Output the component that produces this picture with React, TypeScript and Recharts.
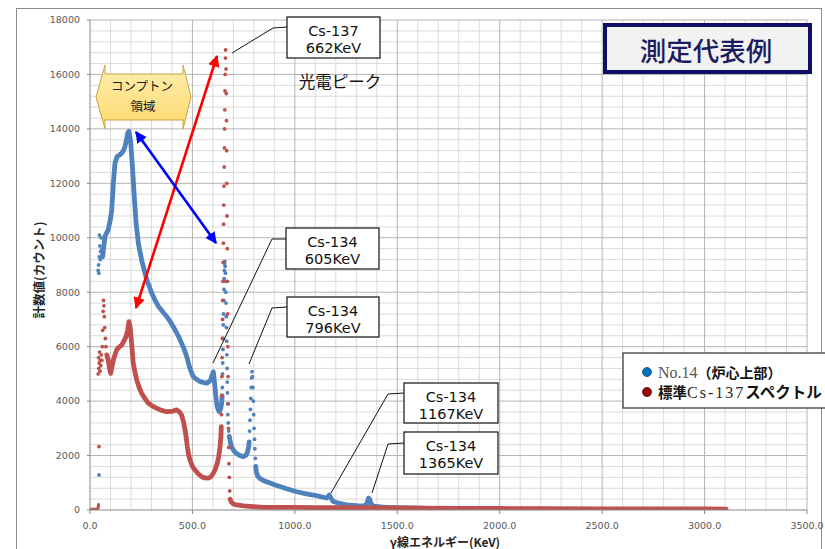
import React from 'react';
import { ComposedChart, Line, Scatter, XAxis, YAxis, ReferenceLine } from 'recharts';

// ---------- tick values ----------
const X_TICKS = [0, 500, 1000, 1500, 2000, 2500, 3000, 3500];
const Y_TICKS = [0, 2000, 4000, 6000, 8000, 10000, 12000, 14000, 16000, 18000];
const X_MINOR = Array.from({ length: 36 }, (_, i) => i * 100).filter((v) => v % 500 !== 0);
const Y_MINOR = Array.from({ length: 46 }, (_, i) => i * 400).filter((v) => v % 2000 !== 0);

// ---------- No.14 (blue) series [keV, counts] ----------
const blueStartDots = [
  [40, 8800], [42, 9000], [43, 8700], [45, 9300], [46, 10100], [48, 9700], [50, 9200],
  [52, 9500], [54, 10000], [56, 9300], [58, 9600], [60, 9400], [44, 1290],
];
const blueContA = [
  [62, 9300], [73, 10050], [89, 10290], [100, 10700], [106, 11030], [114, 12010], [122, 12750],
  [133, 12990], [145, 13050], [155, 13110], [163, 13200], [171, 13360], [178, 13600], [184, 13850],
  [190, 13910], [195, 13700], [199, 13480], [207, 12620], [215, 11640], [225, 10540], [236, 9800],
  [252, 9190], [265, 8800], [277, 8460], [290, 8200], [301, 7970], [318, 7700], [334, 7480],
  [355, 7280], [374, 7110], [395, 6880], [415, 6620], [432, 6380], [447, 6130], [460, 5900],
  [472, 5640], [485, 5270], [495, 5050], [504, 4900], [520, 4800], [537, 4720], [555, 4680],
  [570, 4660], [582, 4720], [589, 4780], [596, 4950], [602, 5080], [606, 4800], [610, 4530],
  [615, 4100], [621, 3800], [626, 3680], [631, 3610], [637, 3700], [643, 3920], [645, 4200],
];
const bluePeak662 = [
  [646, 4500], [647, 5000], [648, 5400], [649, 5900], [650, 6300], [651, 6800], [652, 7200],
  [653, 7700], [654, 8100], [655, 8500], [656, 8800], [657, 9050], [658, 9130],
  [660, 8950], [661, 8700], [662, 8400], [663, 8000], [664, 7600], [665, 7100], [666, 6700],
  [667, 6200], [668, 5700], [669, 5200], [670, 4700], [671, 4300], [672, 3900], [673, 3500],
  [675, 3200], [677, 2900], [679, 2700],
];
const blueContB = [
  [680, 2700], [686, 2450], [692, 2300], [705, 2150], [720, 2050], [735, 1990], [748, 1960],
  [760, 2000], [768, 2100], [774, 2300], [777, 2500],
];
const bluePeak796 = [
  [777, 2500], [779, 2900], [781, 3300], [783, 3700], [785, 4100], [787, 4500], [789, 4850],
  [791, 5080], [793, 4900], [795, 4500], [797, 4000], [799, 3500], [801, 3000], [803, 2600],
  [805, 2250], [807, 1900], [809, 1600],
];
const blueContC = [
  [809, 1600], [812, 1400], [818, 1250], [830, 1150], [850, 1070], [870, 1020], [900, 930],
  [927, 860], [960, 780], [1009, 670], [1050, 600], [1090, 550], [1120, 500], [1155, 440],
  [1163, 500], [1168, 550], [1175, 450], [1188, 310], [1220, 240], [1253, 190], [1300, 160],
  [1334, 150], [1350, 200], [1356, 350], [1360, 440], [1365, 400], [1372, 230], [1383, 140],
  [1420, 110], [1448, 100], [1500, 90], [1580, 75], [1650, 60], [1730, 45], [1800, 35],
];

// ---------- Standard Cs-137 (red) series [keV, counts] ----------
const redBase = [[0, 30], [10, 30], [20, 30], [30, 35], [37, 40], [40, 100], [42, 200]];
const redStartDots = [
  [40, 5000], [42, 5600], [43, 5200], [45, 5400], [47, 5800], [49, 5100], [51, 5500], [53, 5300],
  [55, 5700], [58, 5500], [60, 6000], [62, 6600], [64, 7300], [66, 7700], [68, 7500], [70, 7100],
  [72, 6700], [75, 6300], [78, 6000], [82, 5700], [44, 2330],
];
const redContA = [
  [82, 5700], [89, 5510], [95, 5200], [101, 5020], [107, 5250], [114, 5510], [122, 5700],
  [130, 5880], [142, 5980], [155, 6060], [165, 6200], [176, 6370], [184, 6600], [190, 6920],
  [195, 6750], [199, 6500], [205, 5950], [211, 5390], [220, 5050], [228, 4780], [240, 4500],
  [252, 4290], [268, 4100], [285, 3920], [305, 3820], [325, 3740], [350, 3660], [374, 3610],
  [400, 3620], [423, 3680], [437, 3600], [447, 3490], [456, 3250], [464, 2940], [470, 2650],
  [475, 2330], [481, 2050], [488, 1840], [500, 1600], [513, 1470], [528, 1330], [545, 1220],
  [560, 1180], [577, 1170], [590, 1220], [602, 1350], [612, 1500], [621, 1720], [628, 1950],
  [635, 2330], [639, 2700], [641, 3060],
];
const redPeak662 = [
  [642, 3500], [643, 4200], [644, 4900], [645, 5600], [646, 6300], [647, 7000], [648, 7700],
  [649, 8400], [650, 9100], [651, 9800], [652, 10500], [653, 11200], [654, 11900], [655, 12600],
  [656, 13300], [657, 14000], [658, 14700], [659, 15400], [660, 16000], [661, 16600], [662, 16900],
  [664, 16200], [665, 15300], [666, 14300], [667, 13200], [668, 12000], [669, 10800], [670, 9600],
  [671, 8400], [672, 7200], [673, 6000], [674, 4900], [675, 3900], [676, 3000], [677, 2300],
  [678, 1700], [680, 1200], [682, 700], [684, 400],
];
const redContC = [
  [684, 400], [690, 290], [700, 220], [716, 184], [750, 150], [800, 120], [846, 100], [927, 100],
  [1000, 95], [1100, 90], [1200, 85], [1416, 75], [1600, 65], [1800, 60], [2000, 55], [2200, 50],
  [2500, 45], [2800, 40], [3000, 38], [3105, 35],
];

const BLUE = '#4f81bd';
const RED = '#c0504d';

const pts = (a: number[][]) => a.map(([x, y]) => ({ x, y }));
const dotShape = (color: string) => (props: any) =>
  props.cx == null ? <g /> : <circle cx={props.cx} cy={props.cy} r={1.9} fill={color} />;

const lineProps = {
  dataKey: 'y',
  type: 'linear' as const,
  strokeWidth: 4.8,
  dot: false,
  activeDot: false,
  isAnimationActive: false,
  strokeLinecap: 'round' as const,
  strokeLinejoin: 'round' as const,
  legendType: 'none' as const,
};

const CJK = '"Noto Sans CJK JP", sans-serif';
const VER = '"DejaVu Sans", sans-serif';

const callouts = [
  { box: [287, 17, 93, 41], l1: 'Cs-137', l2: '662KeV', lead: '287,27 273,28 232,53' },
  { box: [286, 228, 93, 41], l1: 'Cs-134', l2: '605KeV', lead: '286,239 272,239 213,363' },
  { box: [287, 297, 92, 40], l1: 'Cs-134', l2: '796KeV', lead: '287,307 272,308 249,364' },
  { box: [404, 383, 94, 40], l1: 'Cs-134', l2: '1167KeV', lead: '404,393 388,394 331,493' },
  { box: [404, 432, 94, 42], l1: 'Cs-134', l2: '1365KeV', lead: '404,443 388,444 372,493' },
];

export default function App() {
  return (
    <div style={{ position: 'absolute', left: 0, top: 0, width: 825, height: 549, background: '#fff', overflow: 'hidden' }}>
      <div style={{ position: 'absolute', left: 16, top: 8, width: 806, height: 560, border: '1px solid #8c8c8c', boxSizing: 'border-box' }} />
      <div style={{ position: 'absolute', left: 0, top: 0 }}>
        <ComposedChart width={825} height={549} margin={{ top: 20, right: 18, bottom: 9, left: 30 }}>
          <XAxis
            type="number"
            dataKey="x"
            domain={[0, 3500]}
            ticks={X_TICKS}
            interval={0}
            allowDataOverflow
            tickFormatter={(v: number) => v.toFixed(1)}
            stroke="#868686"
            tickSize={4}
            tickMargin={8}
            height={30}
            tick={{ fontSize: 9.5, fill: '#595959', fontFamily: VER }}
          />
          <YAxis
            type="number"
            dataKey="y"
            domain={[0, 18000]}
            ticks={Y_TICKS}
            interval={0}
            allowDataOverflow
            stroke="#868686"
            tickSize={3}
            tickMargin={7}
            width={60}
            tick={{ fontSize: 9.5, fill: '#595959', fontFamily: VER }}
          />
          {X_MINOR.map((v) => (
            <ReferenceLine key={'xm' + v} x={v} stroke="#dadada" strokeWidth={1} />
          ))}
          {Y_MINOR.map((v) => (
            <ReferenceLine key={'ym' + v} y={v} stroke="#dadada" strokeWidth={1} />
          ))}
          {X_TICKS.filter((v) => v > 0).map((v) => (
            <ReferenceLine key={'xM' + v} x={v} stroke="#b4b4b4" strokeWidth={1} />
          ))}
          {Y_TICKS.filter((v) => v > 0).map((v) => (
            <ReferenceLine key={'yM' + v} y={v} stroke="#b4b4b4" strokeWidth={1} />
          ))}

          <Line {...lineProps} data={pts(blueContA)} stroke={BLUE} name="bA" />
          <Line {...lineProps} data={pts(blueContB)} stroke={BLUE} name="bB" />
          <Line {...lineProps} data={pts(blueContC)} stroke={BLUE} name="bC" />
          <Scatter data={pts(blueStartDots)} dataKey="y" shape={dotShape(BLUE)} isAnimationActive={false} legendType="none" />
          <Scatter data={pts(bluePeak662)} dataKey="y" shape={dotShape(BLUE)} isAnimationActive={false} legendType="none" />
          <Scatter data={pts(bluePeak796)} dataKey="y" shape={dotShape(BLUE)} isAnimationActive={false} legendType="none" />

          <Line {...lineProps} data={pts(redBase)} stroke={RED} name="rBase" strokeWidth={3} />
          <Line {...lineProps} data={pts(redContA)} stroke={RED} name="rA" />
          <Line {...lineProps} data={pts(redContC)} stroke={RED} name="rC" />
          <Scatter data={pts(redStartDots)} dataKey="y" shape={dotShape(RED)} isAnimationActive={false} legendType="none" />
          <Scatter data={pts(redPeak662)} dataKey="y" shape={dotShape(RED)} isAnimationActive={false} legendType="none" />
        </ComposedChart>
      </div>

      <svg width={825} height={549} style={{ position: 'absolute', left: 0, top: 0, pointerEvents: 'none' }}>
        <defs>
          <marker id="ahR" viewBox="0 0 10 10" refX="9" refY="5" markerWidth="4.5" markerHeight="4.5" orient="auto-start-reverse">
            <path d="M0,0 L10,5 L0,10 z" fill="#ff0000" />
          </marker>
          <marker id="ahB" viewBox="0 0 10 10" refX="9" refY="5" markerWidth="4.5" markerHeight="4.5" orient="auto-start-reverse">
            <path d="M0,0 L10,5 L0,10 z" fill="#0000ff" />
          </marker>
          <linearGradient id="yel" x1="0" y1="0" x2="0" y2="1">
            <stop offset="0" stopColor="#ffeeb0" />
            <stop offset="1" stopColor="#fdd96e" />
          </linearGradient>
        </defs>

        {/* axis titles */}
        <text x={38} y={270} transform="rotate(-90 38 270)" textAnchor="middle" dominantBaseline="central" fontFamily={CJK} fontWeight={700} fontSize={12.5} fill="#262626">
          計数値(カウント)
        </text>
        <text x={445} y={547} textAnchor="middle" fontFamily={CJK} fontWeight={700} fontSize={12} fill="#262626">
          γ線エネルギー(KeV)
        </text>

        {/* Compton region arrow */}
        <polygon points="96,97 105,65 105,74 183,74 183,65 191,97 183,129 183,120 105,120 105,129" fill="url(#yel)" stroke="#c9a441" strokeWidth={1} />
        <text x={142} y={91} textAnchor="middle" fontFamily={CJK} fontSize={12.5} fill="#1a1a1a">コンプトン</text>
        <text x={143} y={111} textAnchor="middle" fontFamily={CJK} fontSize={12.5} fill="#1a1a1a">領域</text>

        {/* arrows */}
        <line x1={136} y1={308} x2={217} y2={56} stroke="#ff0000" strokeWidth={2.6} markerStart="url(#ahR)" markerEnd="url(#ahR)" />
        <line x1={136} y1={132} x2={216} y2={243} stroke="#0000ff" strokeWidth={2.6} markerStart="url(#ahB)" markerEnd="url(#ahB)" />

        {/* photopeak label */}
        <text x={340} y={88} textAnchor="middle" fontFamily={CJK} fontSize={16.5} fill="#111">光電ピーク</text>

        {/* callouts */}
        {callouts.map((c, i) => (
          <g key={i}>
            <polyline points={c.lead} fill="none" stroke="#111" strokeWidth={1} />
            <rect x={c.box[0]} y={c.box[1]} width={c.box[2]} height={c.box[3]} fill="#fff" stroke="#111" strokeWidth={1.2} />
            <text x={c.box[0] + c.box[2] / 2} y={c.box[1] + 19} textAnchor="middle" fontFamily={VER} fontSize={14.5} fill="#111">{c.l1}</text>
            <text x={c.box[0] + c.box[2] / 2} y={c.box[1] + 36} textAnchor="middle" fontFamily={VER} fontSize={14.5} fill="#111">{c.l2}</text>
          </g>
        ))}

        {/* title box */}
        <rect x={605} y={25} width={205} height={47} fill="#f2f2f2" stroke="#0f0f66" strokeWidth={4} />
        <text x={706} y={61} textAnchor="middle" fontFamily={CJK} fontWeight={500} fontSize={26.5} fill="#1c1c5c">測定代表例</text>

        {/* legend */}
        <rect x={623} y={353} width={210} height={55} fill="#fff" stroke="#404040" strokeWidth={1.3} />
        <circle cx={647} cy={372} r={4.5} fill="#0070c0" stroke="#1f3f6f" strokeWidth={0.8} />
        <circle cx={647} cy={392} r={4.5} fill="#a00000" stroke="#400000" strokeWidth={0.8} />
        <text x={658} y={378} fontSize={16}>
          <tspan fontFamily='"Liberation Serif", serif' fill="#595959">No.14</tspan>
          <tspan fontFamily={CJK} fontWeight={700} fontSize={14} fill="#111">（炉心上部）</tspan>
        </text>
        <text x={658} y={398} fontSize={16}>
          <tspan fontFamily={CJK} fontWeight={700} fontSize={14.5} fill="#111">標準</tspan>
          <tspan fontFamily='"Liberation Serif", serif' fill="#262626" letterSpacing={2}>Cs‑137</tspan>
          <tspan fontFamily={CJK} fontWeight={700} fontSize={15.5} fill="#111">スペクトル</tspan>
        </text>
      </svg>
    </div>
  );
}
